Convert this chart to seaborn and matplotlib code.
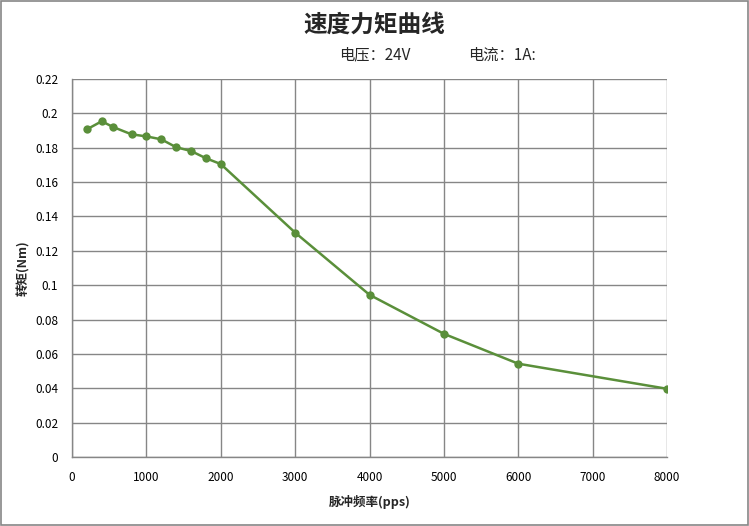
import matplotlib
matplotlib.use("Agg")
import matplotlib.pyplot as plt
import seaborn as sns
import pandas as pd
from matplotlib.patches import Rectangle

freq = [200, 400, 550, 800, 1000, 1200, 1400, 1600, 1800, 2000, 3000, 4000, 5000, 6000, 8000]
torque = [0.1907, 0.1954, 0.1921, 0.1878, 0.1866, 0.1849, 0.1803, 0.1781, 0.1739, 0.1705,
          0.1306, 0.0944, 0.0717, 0.0543, 0.0397]
x_ticks = [0, 1000, 2000, 3000, 4000, 5000, 6000, 7000, 8000]
y_ticks = [0, 0.02, 0.04, 0.06, 0.08, 0.1, 0.12, 0.14, 0.16, 0.18, 0.2, 0.22]
y_tick_labels = ["0", "0.02", "0.04", "0.06", "0.08", "0.1", "0.12", "0.14", "0.16", "0.18", "0.2", "0.22"]

df = pd.DataFrame({"freq": freq, "torque": torque})

sns.set_theme(style="white")
plt.rcParams['font.family'] = ['Noto Sans CJK SC', 'DejaVu Sans']

fig = plt.figure(figsize=(7.49, 5.26), dpi=100)
ax = fig.add_axes([72/749, 1-457/526, (667-72)/749, (457-79)/526])

grid_c = "#868686"
line_c = "#5A8F3A"

sns.lineplot(data=df, x="freq", y="torque", ax=ax, color=line_c, marker="o",
             markersize=6, markeredgewidth=0, linewidth=1.8, zorder=3)

ax.set_xlim(0, 8000)
ax.set_ylim(0, 0.22)
ax.set_xticks(x_ticks)
ax.set_xticklabels([str(t) for t in x_ticks], fontsize=8.5)
ax.set_yticks(y_ticks)
ax.set_yticklabels(y_tick_labels, fontsize=8.5)
ax.grid(True, color=grid_c, linewidth=1.0)
ax.set_axisbelow(True)
for s in ["top", "right"]:
    ax.spines[s].set_visible(False)
for s in ["left", "bottom"]:
    ax.spines[s].set_color(grid_c)
    ax.spines[s].set_linewidth(1.0)
ax.tick_params(axis="both", which="both", direction="out", length=4, width=1.0,
               color=grid_c, labelcolor="black", pad=6)

ax.set_xlabel("脉冲频率(pps)", fontsize=9, fontweight="bold")
ax.set_ylabel("转矩(Nm)", fontsize=9, fontweight="bold")
ax.xaxis.set_label_coords((370 - 72) / 595, -(495 - 457) / 378)
ax.yaxis.set_label_coords(-(72 - 30) / 595, 0.5)

fig.text(374/749, 1-25/526, "速度力矩曲线", ha="center", va="center", fontsize=17, fontweight="bold")
fig.text(339/749, 1-55/526, "电压：24V", ha="left", va="center", fontsize=11)
fig.text(468/749, 1-55/526, "电流：1A:", ha="left", va="center", fontsize=11)

fig.add_artist(Rectangle((0.001, 0.001), 0.997, 0.997, transform=fig.transFigure,
                         fill=False, edgecolor=grid_c, linewidth=1.2))

fig.savefig("out.png", dpi=100)
